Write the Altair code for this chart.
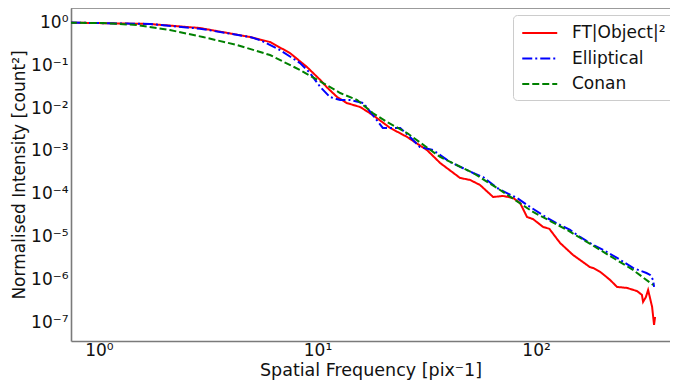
import altair as alt
import pandas as pd

# FT|Object|^2 (red)
red_f = [0.745, 1.71, 2.90, 4.91, 6.06, 7.48, 8.95, 10.3, 11.0, 12.3, 13.6, 15.7, 17.9,
         21.5, 25.7, 31.7, 36.4, 44.9, 49.9, 55.4, 63.6, 70.6, 78.5, 84.5, 90.9, 96.9, 107.7,
         115.0, 121.0, 128.8, 147.6, 171.1, 176.0, 182.4, 196.4, 218.1, 234.8, 260.8, 290.0,
         305.0, 308.8, 318.0, 325.6, 339.6, 346.6, 350.4]
red_v = [0.97, 0.90, 0.725, 0.448, 0.343, 0.190, 0.0898, 0.0448, 0.0308, 0.0180, 0.0131,
         0.0105, 0.00687, 0.00343, 0.00212, 0.00105, 0.000526, 0.000236, 0.000212, 0.000162,
         8.51e-5, 8.98e-5, 8.07e-5, 6.18e-5, 2.92e-5, 2.6e-5, 1.71e-5, 1.55e-5, 1.1e-5, 7.25e-6,
         3.81e-6, 2.23e-6, 2.0e-6, 1.90e-6, 1.55e-6, 1.0e-6, 6.87e-7, 6.52e-7, 5.5e-7, 4.5e-7,
         3.08e-7, 4.0e-7, 5.85e-7, 2.36e-7, 8.98e-8, 1.38e-7]

# Elliptical (blue)
blue_f = [0.745, 1.71, 2.90, 4.91, 5.46, 6.74, 8.32, 9.24, 10.3, 11.4, 12.7, 14.1, 16.2, 17.9,
          19.9, 23.9, 26.5, 29.4, 33.8, 40.4, 51.5, 57.2, 66.3, 73.6, 81.8, 93.9, 112.3, 128.8,
          143.1, 158.9, 182.4, 202.7, 234.8, 277.7, 320.0, 332.6, 343.0, 346.6]
blue_v = [0.97, 0.90, 0.70, 0.448, 0.381, 0.223, 0.111, 0.0652, 0.0308, 0.0180, 0.0153, 0.0153,
          0.0131, 0.00687, 0.00343, 0.00343, 0.00212, 0.00124, 0.00105, 0.000555, 0.000308,
          0.000248, 0.000138, 0.000105, 8.07e-5, 4.99e-5, 2.77e-5, 1.90e-5, 1.46e-5, 1.0e-5,
          6.52e-6, 4.99e-6, 3.25e-6, 1.90e-6, 1.45e-6, 1.31e-6, 1.0e-6, 6.87e-7]

# Conan (green)
green_f = [0.736, 1.04, 1.49, 2.11, 2.99, 4.29, 6.06, 8.32, 10.6, 12.7, 15.2, 17.9, 20.8, 25.7,
           36.4, 51.5, 66.3, 96.9, 138.6, 196.4, 277.7, 343.0]
green_v = [0.96, 0.95, 0.851, 0.652, 0.448, 0.292, 0.171, 0.0765, 0.0381, 0.0223, 0.0153,
           0.00766, 0.00472, 0.00262, 0.000725, 0.000308, 0.000138, 3.81e-5, 1.46e-5, 4.99e-6,
           1.71e-6, 7.66e-7]

names = ["FT|Object|²", "Elliptical", "Conan"]
colors = ["#ff0000", "#0000ff", "#008000"]
dashes = [[1, 0], [10, 3, 2, 3], [7, 3]]

rows = []
for name, fs, vs in zip(names, [red_f, blue_f, green_f], [red_v, blue_v, green_v]):
    for f, v in zip(fs, vs):
        rows.append({"freq": f, "val": v, "series": name})
df = pd.DataFrame(rows)

W, H = 599, 333
FONT = "DejaVu Sans"
SPINE = "#7a7a7a"

x_lbl = "'10' + ['⁰','¹','²','³'][round(log(datum.value)/LN10)]"
y_lbl = ("'10' + (round(log(datum.value)/LN10) < 0 ? '⁻' : '') + "
         "['⁰','¹','²','³','⁴','⁵','⁶','⁷','⁸'][abs(round(log(datum.value)/LN10))]")

lines = alt.Chart(df).mark_line(strokeWidth=2, clip=True).encode(
    x=alt.X("freq:Q",
            scale=alt.Scale(type="log", domain=[0.745, 410], nice=False),
            axis=alt.Axis(values=[1, 10, 100], labelExpr=x_lbl, title="Spatial Frequency [pix⁻1]",
                          grid=False, ticks=False, labelFontSize=17, titleFontSize=17.5,
                          labelPadding=1, titlePadding=3, domainColor=SPINE, domainWidth=1.6)),
    y=alt.Y("val:Q",
            scale=alt.Scale(type="log", domain=[3.8e-8, 2.12], nice=False),
            axis=alt.Axis(values=[1e-7, 1e-6, 1e-5, 1e-4, 1e-3, 1e-2, 1e-1, 1],
                          labelExpr=y_lbl, title="Normalised Intensity [count²]",
                          grid=False, ticks=False, labelFontSize=17, titleFontSize=17,
                          labelPadding=3, titlePadding=2, domainColor=SPINE, domainWidth=1.6)),
    color=alt.Color("series:N",
                    scale=alt.Scale(domain=names, range=colors),
                    legend=alt.Legend(title=None, orient="none", legendX=442, legendY=7,
                                      symbolType="M-1,0H3", symbolSize=306, symbolStrokeWidth=2,
                                      labelFontSize=17, labelFont=FONT, labelOffset=31,
                                      rowPadding=7.5, padding=8, strokeColor="#cccccc",
                                      cornerRadius=4, fillColor="white", labelColor="#111")),
    strokeDash=alt.StrokeDash("series:N", scale=alt.Scale(domain=names, range=dashes), legend=None),
    order=alt.Order("freq:Q"),
)

top = alt.Chart(pd.DataFrame({"a": [0]})).mark_rule(color=SPINE, strokeWidth=1.6).encode(
    x=alt.value(0), x2=alt.value(W), y=alt.value(0)
)

chart = alt.layer(top, lines).properties(
    width=W, height=H,
    autosize=alt.AutoSizeParams(type="none"),
    padding={"left": 63, "top": 0, "right": 0, "bottom": 42},
).configure_view(stroke=None).configure_axis(
    labelFont=FONT, titleFont=FONT, labelColor="#111", titleColor="#111", titleFontWeight="normal"
)

chart.save("out.html", embed_options={"renderer": "svg", "actions": False})
